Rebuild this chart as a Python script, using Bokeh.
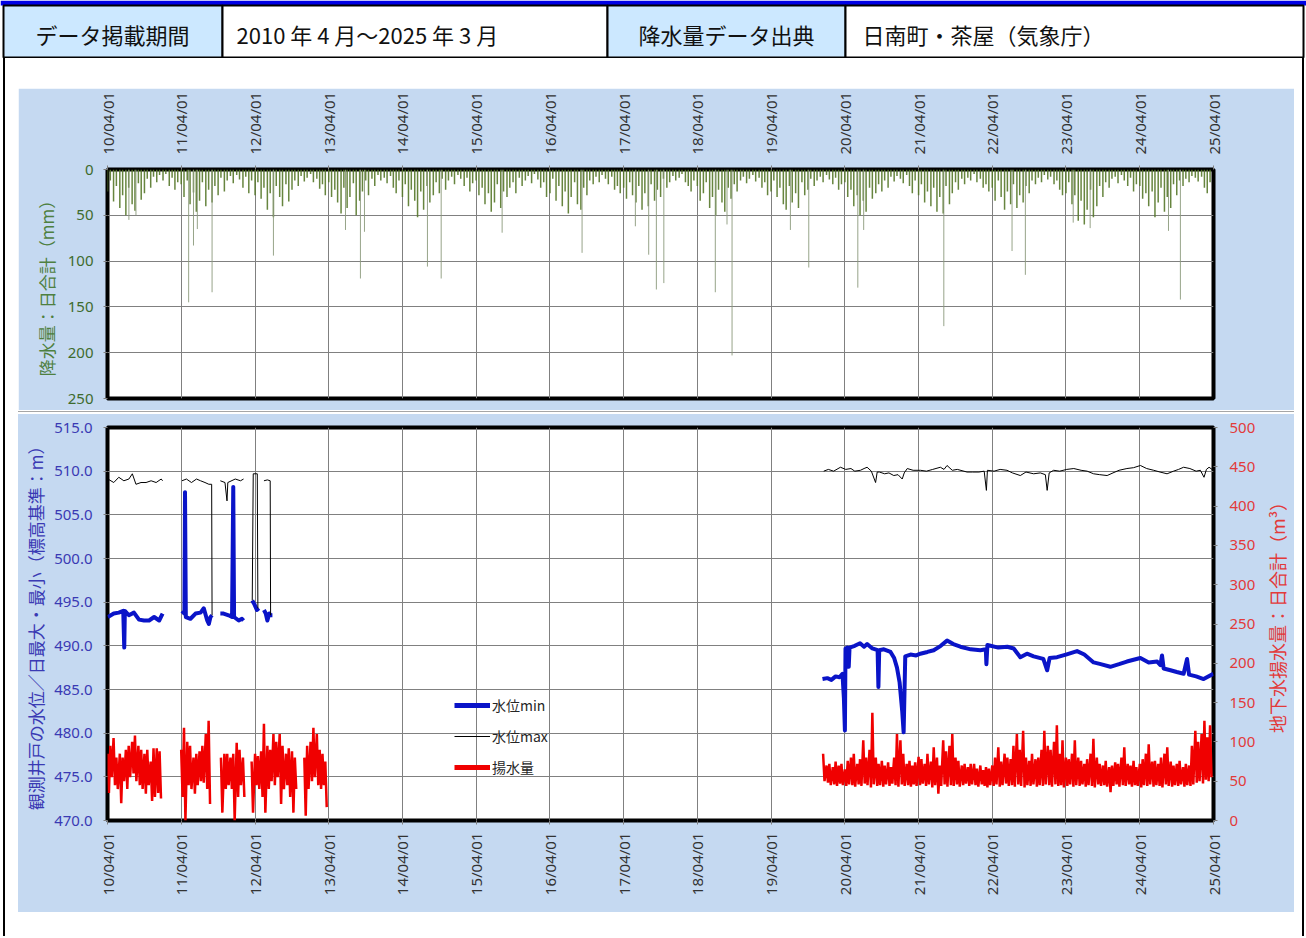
import numpy as np
import pandas as pd
from bokeh.plotting import figure
from bokeh.models import (Range1d, LinearAxis, FixedTicker, DatetimeTickFormatter,
                          PrintfTickFormatter, ColumnDataSource, Legend, LegendItem, Div, Spacer)
from bokeh.layouts import column, row
from bokeh.embed import file_html
from bokeh.resources import INLINE
from bokeh.core.properties import value

NA = float("nan")

# ---------------- texts / ticks ----------------
header_cells = ["データ掲載期間", "2010 年 4 月～2025 年 3 月", "降水量データ出典", "日南町・茶屋（気象庁）"]
year_ticks = ["2010-04-01", "2011-04-01", "2012-04-01", "2013-04-01", "2014-04-01", "2015-04-01",
              "2016-04-01", "2017-04-01", "2018-04-01", "2019-04-01", "2020-04-01", "2021-04-01",
              "2022-04-01", "2023-04-01", "2024-04-01", "2025-04-01"]
rain_ticks = [0, 50, 100, 150, 200, 250]
level_ticks = [470, 475, 480, 485, 490, 495, 500, 505, 510, 515]
pump_ticks = [0, 50, 100, 150, 200, 250, 300, 350, 400, 450, 500]
rain_title = "降水量：日合計（mm）"
level_title = "観測井戸の水位／日最大・最小（標高基準：m）"
pump_title = "地下水揚水量：日合計（m³）"
legend_labels = ["水位min", "水位max", "揚水量"]

# ---------------- precipitation (mm) ----------------
# semi-monthly (1st / 15th) readings, one row per fiscal year Apr..Mar
rain_start = "2010-04-01"
rain_semimonthly = [
    24, 12, 35, 18, 42, 28, 50, 20, 38, 45, 15, 33, 26, 10, 20, 8, 14, 6, 12, 5, 18, 9, 22, 14,
    16, 30, 12, 38, 25, 46, 34, 14, 40, 22, 36, 18, 28, 9, 24, 12, 7, 15, 6, 11, 20, 8, 26, 12,
    28, 14, 32, 20, 44, 26, 52, 18, 30, 40, 16, 35, 22, 12, 18, 7, 13, 9, 5, 14, 10, 21, 16, 28,
    14, 30, 22, 36, 48, 20, 42, 30, 15, 50, 34, 24, 12, 28, 10, 18, 6, 12, 9, 15, 7, 20, 26, 12,
    30, 16, 40, 22, 34, 52, 24, 44, 18, 36, 28, 14, 26, 10, 22, 12, 8, 16, 6, 10, 18, 9, 24, 15,
    12, 28, 20, 38, 26, 46, 36, 16, 42, 24, 30, 20, 14, 26, 9, 18, 12, 7, 15, 5, 11, 20, 14, 30,
    26, 10, 34, 18, 40, 24, 48, 30, 14, 38, 44, 20, 28, 12, 16, 8, 14, 6, 10, 16, 8, 22, 18, 26,
    20, 32, 14, 28, 36, 18, 44, 26, 40, 16, 34, 22, 30, 10, 20, 14, 7, 12, 9, 5, 14, 18, 24, 12,
    18, 34, 26, 14, 42, 30, 50, 22, 36, 46, 20, 32, 16, 24, 12, 8, 15, 10, 6, 13, 9, 20, 14, 28,
    24, 12, 30, 20, 38, 44, 18, 36, 26, 42, 14, 28, 22, 10, 18, 12, 8, 14, 6, 11, 16, 9, 22, 16,
    14, 30, 22, 40, 28, 50, 34, 46, 20, 32, 26, 16, 24, 12, 20, 8, 13, 7, 10, 15, 6, 18, 26, 12,
    28, 16, 36, 24, 40, 20, 46, 30, 48, 18, 38, 26, 14, 22, 10, 16, 9, 12, 5, 14, 10, 20, 16, 24,
    20, 34, 12, 30, 44, 24, 38, 16, 42, 28, 36, 18, 26, 12, 16, 9, 14, 6, 11, 8, 16, 12, 22, 28,
    26, 14, 38, 28, 56, 34, 60, 44, 22, 52, 40, 18, 30, 14, 20, 10, 8, 15, 6, 12, 18, 9, 24, 16,
    18, 32, 26, 40, 24, 52, 36, 20, 46, 30, 42, 16, 28, 12, 18, 10, 14, 7, 9, 13, 8, 20, 26, 14,
]
rain_peak_dates = ["2010-07-16", "2010-08-20", "2011-05-08", "2011-06-01", "2011-06-20", "2011-09-01",
                   "2012-07-01", "2013-06-23", "2013-09-05", "2013-09-25", "2014-08-03", "2014-10-10",
                   "2015-08-08", "2016-09-07", "2017-05-29", "2017-08-03", "2017-09-10", "2017-10-17",
                   "2018-06-29", "2018-08-26", "2018-09-20", "2019-07-06", "2019-10-05", "2020-06-04",
                   "2020-07-03", "2021-08-04", "2022-07-08", "2022-09-12", "2023-05-07", "2023-07-30",
                   "2024-08-21", "2024-10-19"]
rain_peak_mm = [55, 50, 145, 83, 65, 134,
                94, 66, 119, 68, 106, 119,
                69, 91, 62, 93, 131, 124,
                134, 60, 203, 66, 107, 129,
                66, 171, 89, 115, 58, 64,
                67, 142]

# ---------------- well water level, daily min (m) ----------------
min_dates = ["2010-04-03", "2010-05-02", "2010-05-27", "2010-06-18", "2010-06-23", "2010-06-26",
             "2010-07-16", "2010-08-10", "2010-09-04", "2010-09-29", "2010-10-24", "2010-11-18",
             "2010-12-13", "2010-12-30", "2011-02-15",
             "2011-04-05", "2011-04-17", "2011-04-20", "2011-04-24", "2011-05-17", "2011-06-11",
             "2011-07-06", "2011-07-22", "2011-08-08", "2011-08-16", "2011-08-24", "2011-09-01",
             "2011-09-20",
             "2011-10-12", "2011-10-28", "2011-11-22", "2011-12-09", "2011-12-15", "2011-12-19",
             "2012-01-11", "2012-01-27", "2012-02-04", "2012-03-01",
             "2012-03-18", "2012-03-28", "2012-04-10", "2012-04-20", "2012-05-01",
             "2012-05-15", "2012-05-24", "2012-06-01", "2012-06-10", "2012-06-17", "2012-06-26",
             "2016-01-01",
             "2019-12-12", "2020-01-05", "2020-01-25", "2020-02-15", "2020-03-05", "2020-03-20",
             "2020-03-27", "2020-04-01", "2020-04-04", "2020-04-13", "2020-04-20", "2020-04-24",
             "2020-05-20", "2020-06-15", "2020-07-05", "2020-07-20", "2020-08-15", "2020-09-10",
             "2020-09-14", "2020-09-18", "2020-10-11", "2020-11-13", "2020-12-01", "2020-12-15",
             "2020-12-28", "2021-01-10", "2021-01-17", "2021-01-25", "2021-02-20", "2021-03-20",
             "2021-04-10", "2021-05-15", "2021-06-15", "2021-07-20", "2021-08-20", "2021-09-20",
             "2021-10-25", "2021-12-15", "2022-02-01", "2022-02-28", "2022-03-03", "2022-03-08",
             "2022-05-01", "2022-06-15", "2022-07-16", "2022-08-18", "2022-09-20", "2022-10-23",
             "2022-12-10", "2022-12-29", "2023-01-10", "2023-02-16", "2023-04-01", "2023-05-26",
             "2023-07-01", "2023-08-16", "2023-09-20", "2023-11-07", "2023-12-20", "2024-01-28",
             "2024-03-01", "2024-04-04", "2024-05-15", "2024-06-26", "2024-07-12", "2024-07-20",
             "2024-07-28", "2024-08-31", "2024-10-01", "2024-11-04", "2024-11-21", "2024-12-01",
             "2025-01-05", "2025-02-11", "2025-03-31"]
min_vals = [493.3, 493.7, 493.8, 494.0, 489.8, 494.0,
            493.5, 493.8, 493.0, 492.9, 492.9, 493.3,
            492.9, 493.7, NA,
            494.0, 493.7, 507.6, 493.3, 493.1, 493.7,
            493.8, 494.3, 492.9, 492.5, 493.3, 493.5,
            NA,
            493.7, 493.7, 493.5, 493.3, 508.2, 493.3,
            492.9, 493.1, 492.9, NA,
            495.2, 494.8, 494.1, 494.3, NA,
            494.1, 493.7, 492.9, 493.7, 493.5, 493.5,
            NA,
            486.2, 486.3, 486.1, 486.5, 486.4, 486.8,
            484.0, 480.3, 489.7, 489.8, 487.6, 489.8,
            490.0, 490.3, 489.9, 490.2, 489.7, 489.5,
            485.3, 489.5, 489.6, 489.3, 488.6, 487.5,
            485.8, 482.5, 480.1, 488.8, 489.0, 488.9,
            489.1, 489.3, 489.5, 490.0, 490.6, 490.2,
            489.9, 489.6, 489.5, 489.6, 487.9, 490.1,
            489.8, 489.9, 489.7, 488.7, 489.1, 488.8,
            488.5, 487.2, 488.6, 488.7, 489.0, 489.4,
            489.0, 488.1, 487.9, 487.6, 487.9, 488.2,
            488.4, 488.6, 488.1, 488.2, 487.8, 488.9,
            487.4, 487.2, 487.0, 486.8, 488.5, 486.7,
            486.5, 486.2, 486.8]

# ---------------- well water level, daily max (m) ----------------
max_dates = ["2010-04-03", "2010-05-02", "2010-05-27", "2010-06-21", "2010-07-16", "2010-08-02",
             "2010-08-20", "2010-09-14", "2010-10-09", "2010-11-03", "2010-11-28", "2010-12-23",
             "2010-12-30", "2011-02-15",
             "2011-04-05", "2011-04-27", "2011-05-22", "2011-06-16", "2011-07-06", "2011-07-28",
             "2011-08-16", "2011-08-30", "2011-09-01", "2011-09-20",
             "2011-10-12", "2011-11-04", "2011-11-14", "2011-11-18", "2011-12-25", "2012-01-20",
             "2012-02-04", "2012-03-01",
             "2012-03-18", "2012-03-23", "2012-04-12", "2012-04-15", "2012-05-01",
             "2012-05-15", "2012-06-01", "2012-06-15", "2012-06-17", "2016-01-01",
             "2019-12-18", "2020-01-10", "2020-02-05", "2020-03-10", "2020-04-05", "2020-05-01",
             "2020-05-20", "2020-06-17", "2020-07-05", "2020-07-20", "2020-08-10", "2020-08-31",
             "2020-09-08", "2020-09-19", "2020-10-15", "2020-11-05", "2020-11-29", "2020-12-20",
             "2021-01-10", "2021-01-20", "2021-02-04", "2021-03-05", "2021-04-10", "2021-05-10",
             "2021-06-10", "2021-07-18", "2021-08-05", "2021-08-20", "2021-09-15", "2021-10-10",
             "2021-11-27", "2021-12-25", "2022-01-25", "2022-02-20", "2022-03-03", "2022-03-08",
             "2022-04-10", "2022-05-10", "2022-06-13", "2022-07-10", "2022-08-18", "2022-09-15",
             "2022-10-23", "2022-11-25", "2022-12-20", "2022-12-29", "2023-01-08", "2023-01-30",
             "2023-03-01", "2023-04-05", "2023-05-10", "2023-06-15", "2023-07-15", "2023-08-16",
             "2023-09-15", "2023-10-22", "2023-11-20", "2023-12-20", "2024-01-28", "2024-03-01",
             "2024-04-04", "2024-05-05", "2024-06-09", "2024-07-10", "2024-08-14", "2024-09-15",
             "2024-10-10", "2024-11-04", "2024-12-05", "2025-01-05", "2025-01-26", "2025-02-13",
             "2025-02-25", "2025-03-10", "2025-03-31"]
max_vals = [509.1, 508.7, 509.3, 508.9, 509.1, 509.7,
            508.5, 508.7, 508.7, 508.9, 508.7, 509.1,
            508.9, NA,
            508.9, 509.1, 508.7, 509.1, 508.9, 508.7,
            508.5, 508.5, 493.5, NA,
            508.9, 508.7, 506.6, 508.7, 509.1, 508.9,
            509.1, NA,
            495.2, 509.7, 509.7, 494.3, NA,
            508.9, 509.0, 508.9, 493.5, NA,
            510.0, 510.2, 510.0, 510.45, 510.2, 510.3,
            510.0, 510.1, 510.3, 510.45, 510.0, 508.7,
            509.9, 509.9, 509.7, 509.8, 509.5, 509.6,
            509.1, 509.8, 510.3, 510.1, 510.1, 510.0,
            510.2, 510.45, 510.2, 510.65, 510.1, 510.2,
            509.9, 509.9, 509.9, 510.0, 507.8, 510.1,
            510.0, 510.2, 510.1, 509.8, 509.5, 509.9,
            509.7, 509.8, 509.6, 507.8, 509.8, 510.1,
            510.0, 510.2, 510.3, 510.1, 510.0, 509.7,
            509.6, 509.5, 509.8, 510.1, 510.3, 510.4,
            510.65, 510.3, 510.1, 509.9, 509.7, 510.0,
            510.2, 510.45, 510.3, 510.0, 510.1, 509.3,
            510.2, 510.45, 510.1]

# ---------------- groundwater pumping, daily total (m3) ----------------
# semi-monthly high / low readings of the daily series, per recorded block
pump_starts = ["2010-04-01", "2011-04-01", "2011-10-15", "2012-03-15", "2012-12-01", "2019-12-15"]
pump_hi_a = [85, 95, 105, 80, 85, 80, 90, 95, 100, 108, 95, 90, 85, 90, 75, 92, 92, 88]
pump_lo_a = [35, 55, 45, 40, 22, 50, 40, 55, 60, 50, 45, 40, 34, 45, 25, 30, 35, 28]
pump_hi_b = [90, 118, 100, 95, 80, 85, 88, 95, 110, 127]
pump_lo_b = [30, 0, 45, 40, 34, 45, 50, 48, 40, 21]
pump_hi_c = [80, 85, 85, 80, 85, 99, 90, 80]
pump_lo_c = [10, 40, 45, 40, 0, 30, 45, 30]
pump_hi_d = [75, 85, 82, 88, 123, 95, 90, 110, 100, 110, 95, 85, 92, 88, 80]
pump_lo_d = [10, 45, 40, 30, 10, 40, 50, 45, 55, 21, 40, 45, 30, 10, 40]
pump_hi_e = [80, 95, 100, 118, 110, 90, 85, 75]
pump_lo_e = [6, 40, 50, 55, 45, 40, 45, 17]
pump_hi_f = [85,
             70, 72, 68, 75, 70, 72, 65, 76, 80, 85, 72, 78, 102, 80, 90, 137, 80, 72, 76, 70, 74, 68, 80, 110,
             102, 85, 72, 76, 70, 74, 81, 78, 72, 85, 75, 93, 80, 70, 102, 88, 95, 110, 80, 76, 70, 72, 68, 72,
             72, 66, 70, 64, 68, 66, 70, 80, 93, 75, 85, 80, 78, 95, 110, 90, 114, 80, 76, 85, 78, 80, 90, 114,
             95, 90, 100, 121, 85, 102, 80, 78, 85, 102, 80, 76, 72, 78, 85, 104, 80, 72, 70, 76, 68, 70, 74, 72,
             80, 93, 72, 70, 76, 68, 72, 78, 85, 97, 75, 76, 72, 80, 85, 93, 75, 70, 72, 76, 68, 72, 70, 95,
             114, 100, 110, 127, 106, 121]
pump_lo_f = [50,
             48, 45, 46, 44, 47, 45, 44, 46, 45, 43, 46, 44, 47, 45, 42, 46, 44, 45, 43, 46, 44, 47, 45, 43,
             46, 44, 45, 43, 46, 44, 45, 47, 44, 46, 42, 45, 34, 44, 46, 43, 45, 44, 46, 43, 45, 47, 44, 46,
             45, 43, 46, 44, 42, 45, 44, 46, 43, 45, 47, 44, 45, 43, 46, 44, 42, 45, 44, 46, 43, 45, 44, 46,
             45, 43, 46, 44, 45, 42, 44, 46, 43, 45, 44, 46, 43, 45, 44, 42, 46, 44, 45, 43, 36, 44, 46, 43,
             45, 44, 46, 43, 45, 44, 42, 45, 44, 46, 43, 45, 44, 42, 46, 44, 43, 45, 44, 46, 43, 45, 44, 46,
             48, 50, 47, 52, 50, 55]
pump_hi = [pump_hi_a, pump_hi_b, pump_hi_c, pump_hi_d, pump_hi_e, pump_hi_f]
pump_lo = [pump_lo_a, pump_lo_b, pump_lo_c, pump_lo_d, pump_lo_e, pump_lo_f]

# ---------------- colours ----------------
BG = "#C5D9F1"
HEAD_BLUE = "#CCE8FF"
GREEN_T = "#3E6B2E"
GREEN_L = "#4E8040"
BLUE = "#0A14C8"
BLUE_T = "#3A3AB4"
RED = "#F00000"
RED_T = "#E23A3A"
GRID = "#808080"
UP = np.pi / 2  # text reading bottom-to-top


def to_ms(dates):
    return pd.DatetimeIndex(pd.to_datetime(list(dates))).as_unit("ms").asi8.astype(float)


tick_ms = list(to_ms(year_ticks))
x_start, x_end = tick_ms[0], tick_ms[-1]
FMT = "%y/%m/%d"


def date_formatter():
    return DatetimeTickFormatter(years=FMT, months=FMT, days=FMT, hours=FMT, hourmin=FMT,
                                 minutes=FMT, minsec=FMT, seconds=FMT, milliseconds=FMT,
                                 microseconds=FMT, strip_leading_zeros=False)


def style_date_axis(ax, standoff):
    ax.ticker = FixedTicker(ticks=tick_ms)
    ax.formatter = date_formatter()
    ax.major_label_orientation = UP
    ax.major_label_text_font = "Noto Sans"
    ax.major_label_text_font_size = "15px"
    ax.major_label_text_color = "#333333"
    ax.major_label_standoff = standoff
    ax.axis_line_color = None
    ax.major_tick_line_color = "#808080"
    ax.major_tick_out = 4
    ax.major_tick_in = 0
    ax.minor_tick_line_color = None


def style_value_axis(ax, color_t, color_l, title, title_size, standoff, label_standoff):
    ax.major_label_text_font = "Noto Sans"
    ax.major_label_text_font_size = "15px"
    ax.major_label_text_color = color_t
    ax.major_label_standoff = label_standoff
    if title is not None:
        ax.axis_label = title
        ax.axis_label_text_font = "Noto Sans CJK JP"
        ax.axis_label_text_font_style = "normal"
        ax.axis_label_text_font_size = title_size
        ax.axis_label_text_color = color_l
        ax.axis_label_standoff = standoff
    ax.axis_line_color = None
    ax.major_tick_line_color = "#808080"
    ax.major_tick_out = 4
    ax.major_tick_in = 0
    ax.minor_tick_line_color = None


# ================= header =================
head = figure(width=1306, height=58, x_range=Range1d(0, 1306), y_range=Range1d(0, 58),
              x_axis_type=None, y_axis_type=None, output_backend="svg", toolbar_location=None,
              min_border=0, outline_line_color=None, background_fill_color="white",
              border_fill_color="white")
head.quad(left=[0], right=[1306], bottom=[53], top=[58], fill_color="#0000E6", line_color=None)
cell_edges = [3, 222, 607, 845, 1303]
head.quad(left=cell_edges[:-1], right=cell_edges[1:], bottom=[1] * 4, top=[53] * 4,
          fill_color=[HEAD_BLUE, "white", HEAD_BLUE, "white"], line_color="black", line_width=2)
head.text(x=[112, 726], y=[25, 25], text=[header_cells[0], header_cells[2]],
          text_align="center", text_baseline="middle", text_font=value("Noto Sans CJK JP"),
          text_font_size="22px", text_color="#111111")
head.text(x=[236, 862], y=[25, 25], text=[header_cells[1], header_cells[3]],
          text_align="left", text_baseline="middle", text_font=value("Noto Sans CJK JP"),
          text_font_size="22px", text_color="#111111")

# ================= precipitation chart =================
top = figure(width=1276, height=322, x_axis_type="datetime", x_axis_location="above",
             x_range=Range1d(x_start, x_end), y_range=Range1d(250, 0),
             output_backend="svg", toolbar_location=None,
             min_border_left=89, min_border_right=81, min_border_top=80, min_border_bottom=12,
             background_fill_color="white", border_fill_color=BG,
             outline_line_color="black", outline_line_width=4)
style_date_axis(top.xaxis[0], 11)
top.yaxis.ticker = FixedTicker(ticks=rain_ticks)
style_value_axis(top.yaxis[0], GREEN_T, GREEN_L, rain_title, "17px", 6, 10)
top.grid.grid_line_color = GRID
top.grid.grid_line_width = 1

rain_x = to_ms(pd.date_range(rain_start, periods=len(rain_semimonthly), freq="SMS"))
rain_src = ColumnDataSource(dict(x=rain_x, mm=rain_semimonthly))
top.segment(x0="x", y0=0, x1="x", y1="mm", source=rain_src, line_color="#56782A",
            line_width=1.5, line_alpha=0.9)
peak_src = ColumnDataSource(dict(x=to_ms(rain_peak_dates), mm=rain_peak_mm))
top.segment(x0="x", y0=0, x1="x", y1="mm", source=peak_src, line_color="#8C9A7C",
            line_width=1, line_alpha=0.9)

# ================= water level / pumping chart =================
bot = figure(width=1240, height=498, x_axis_type="datetime",
             x_range=Range1d(x_start, x_end), y_range=Range1d(470, 515),
             output_backend="svg", toolbar_location=None,
             min_border_left=89, min_border_right=45, min_border_top=13, min_border_bottom=92,
             background_fill_color="white", border_fill_color=BG,
             outline_line_color="black", outline_line_width=4)
bot.extra_y_ranges = {"pump": Range1d(0, 500)}
style_date_axis(bot.xaxis[0], 8)
bot.yaxis.ticker = FixedTicker(ticks=level_ticks)
bot.yaxis.formatter = PrintfTickFormatter(format="%.1f")
style_value_axis(bot.yaxis[0], BLUE_T, BLUE_T, level_title, "17px", 3, 11)
right_axis = LinearAxis(y_range_name="pump", ticker=FixedTicker(ticks=pump_ticks))
style_value_axis(right_axis, RED_T, RED_T, None, None, None, 12)
bot.add_layout(right_axis, "right")
bot.grid.grid_line_color = GRID
bot.grid.grid_line_width = 1

# pumping: each semi-month contributes its high and its low reading
px, py = [], []
for start, hi, lo in zip(pump_starts, pump_hi, pump_lo):
    d = to_ms(pd.date_range(start, periods=len(hi), freq="SMS"))
    for di, h, l in zip(d, hi, lo):
        px += [di, di + 7 * 86400000.0]
        py += [h, l]
    px.append(d[-1] + 10 * 86400000.0)
    py.append(NA)
bot.line(x=px, y=py, y_range_name="pump", line_color=RED, line_width=2.5)

bot.line(x=to_ms(min_dates), y=min_vals, line_color=BLUE, line_width=4, line_join="round")
bot.line(x=to_ms(max_dates), y=max_vals, line_color="black", line_width=1)

leg_min = bot.line(x=[x_start], y=[NA], line_color=BLUE, line_width=5)
leg_max = bot.line(x=[x_start], y=[NA], line_color="black", line_width=1)
leg_pump = bot.line(x=[x_start], y=[NA], line_color=RED, line_width=5, y_range_name="pump")
legend = Legend(items=[LegendItem(label=legend_labels[0], renderers=[leg_min]),
                       LegendItem(label=legend_labels[1], renderers=[leg_max]),
                       LegendItem(label=legend_labels[2], renderers=[leg_pump])],
                location=(347, 43), background_fill_alpha=0, border_line_color=None,
                glyph_width=36, glyph_height=20, label_height=20, spacing=11, padding=4,
                margin=0, label_standoff=2, label_text_font="Noto Sans CJK JP",
                label_text_font_size="14px", label_text_color="#262626")
bot.add_layout(legend)

# right-axis title strip (reads bottom-to-top like the reference)
rtitle = figure(width=36, height=498, x_range=Range1d(0, 36), y_range=Range1d(0, 498),
                x_axis_type=None, y_axis_type=None, output_backend="svg", toolbar_location=None,
                min_border=0, outline_line_color=None, background_fill_color=BG,
                border_fill_color=BG)
rtitle.text(x=[18], y=[263], text=[pump_title], angle=UP, text_align="center",
            text_baseline="middle", text_font=value("Noto Sans CJK JP"), text_font_size="18px",
            text_color=RED_T)

# ================= page layout =================
left_line = Div(text="", width=2, height=878, margin=0, styles={"background-color": "black"})
right_line = Div(text="", width=2, height=878, margin=0, styles={"background-color": "black"})
sep = Div(text="", width=1276, height=4, margin=0,
          styles={"background": "linear-gradient(#ffffff 0px, #ffffff 1px, #a6a6a6 1px, #a6a6a6 2px, #ffffff 2px)"})
bot_row = row(bot, rtitle, spacing=0, styles={"background-color": BG})
inner = column(Spacer(width=1276, height=30), top, sep, bot_row,
               Spacer(width=1276, height=24), spacing=0)
body = row(Spacer(width=3, height=878), left_line, Spacer(width=13, height=878), inner,
           Spacer(width=8, height=878), right_line, Spacer(width=2, height=878), spacing=0)
root = column(head, body, spacing=0)

open("out.html", "w").write(file_html(root, INLINE, title="chart"))
